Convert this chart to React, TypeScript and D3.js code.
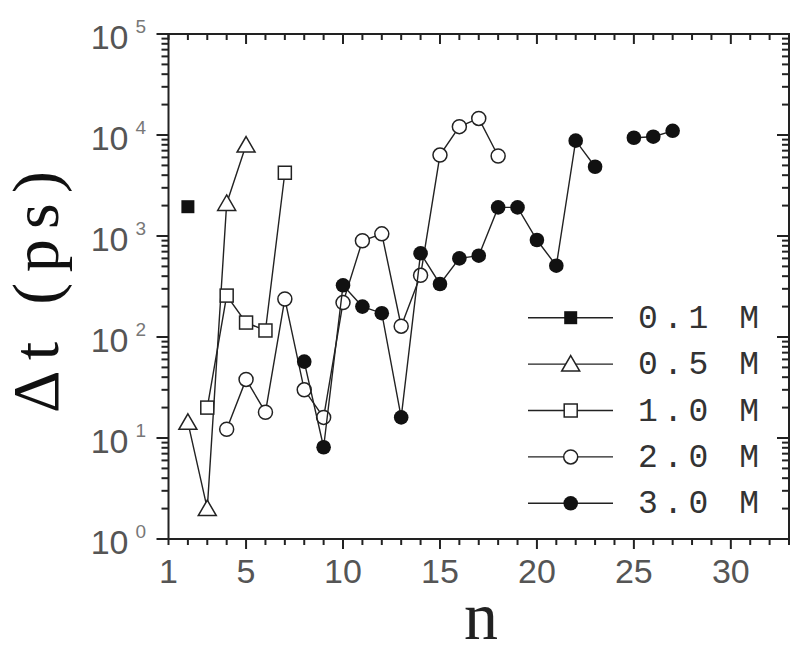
import React from 'react'
import { scaleLinear, scaleLog, line, range } from 'd3'

// n values and Δt (ps), one pair of arrays per concentration
const n01 = [2]
const dt01 = [1950]

const n05 = [2, 3, 4, 5]
const dt05 = [14.3, 2.0, 2100, 7950]

const n10 = [3, 4, 5, 6, 7]
const dt10 = [20, 257, 139, 116, 4230]

const n20 = [4, 5, 6, 7, 8, 9, 10, 11, 12, 13, 14, 15, 16, 17, 18]
const dt20 = [12.2, 38, 18, 238, 30, 16, 219, 898, 1050, 128, 408, 6330, 12100, 14600, 6200]

const n30 = [8, 9, 10, 11, 12, 13, 14, 15, 16, 17, 18, 19, 20, 21, 22, 23, 24, 25, 26, 27]
const dt30 = [57, 8.1, 325, 200, 172, 16, 674, 335, 600, 638, 1920, 1920, 913, 508, 8790, 4850, null, 9400, 9620, 11000]

const legendLabels = ['0.1 M', '0.5 M', '1.0 M', '2.0 M', '3.0 M']
const xTickLabels = [1, 5, 10, 15, 20, 25, 30]
const yExponents = [0, 1, 2, 3, 4, 5]

const left = 168.5, right = 789, top = 34, bottom = 539

const x = scaleLinear().domain([1, 33]).range([left, right])
const y = scaleLog().domain([1, 1e5]).range([bottom, top])

const ink = '#222'

const Marker = ({ kind, cx, cy }) => {
    if (kind === 'fsquare') return <rect x={cx - 6.5} y={cy - 6.5} width={13} height={13} fill="#111" />
    if (kind === 'square') return <rect x={cx - 6.5} y={cy - 6.5} width={13} height={13} fill="white" stroke={ink} strokeWidth={1.5} />
    if (kind === 'triangle') return <path d={`M${cx},${cy - 8.5}L${cx + 9},${cy + 7}L${cx - 9},${cy + 7}Z`} fill="white" stroke={ink} strokeWidth={1.5} />
    if (kind === 'circle') return <circle cx={cx} cy={cy} r={7} fill="white" stroke={ink} strokeWidth={1.5} />
    return <circle cx={cx} cy={cy} r={7.3} fill="#111" />
}

const seriesList = [
    { ns: n01, vals: dt01, kind: 'fsquare' },
    { ns: n05, vals: dt05, kind: 'triangle' },
    { ns: n10, vals: dt10, kind: 'square' },
    { ns: n20, vals: dt20, kind: 'circle' },
    { ns: n30, vals: dt30, kind: 'fcircle' },
]

const App = () => {
    const path = line()
        .defined(d => d[1] != null)
        .x(d => x(d[0]))
        .y(d => y(d[1]))

    const xMinor = range(1, 34)
    const yMinor = []
    yExponents.slice(0, -1).forEach(e => {
        for (let k = 2; k <= 9; k++) yMinor.push(k * Math.pow(10, e))
    })

    const legendY = i => 317.7 + i * 46.4

    return (
        <svg width={800} height={655} style={{ position: 'absolute', left: 0, top: 0, background: 'white' }}>
            {/* ticks: top & bottom point down, left & right point left */}
            <g stroke={ink} strokeWidth={2}>
                {xMinor.map(v => {
                    const len = v % 5 === 0 ? 10 : 6
                    return (
                        <g key={'xt' + v}>
                            <line x1={x(v)} x2={x(v)} y1={top} y2={top + len} />
                            <line x1={x(v)} x2={x(v)} y1={bottom} y2={bottom + len} />
                        </g>
                    )
                })}
                {yMinor.map(v => (
                    <g key={'ym' + v}>
                        <line x1={left} x2={left - 7} y1={y(v)} y2={y(v)} />
                        <line x1={right} x2={right - 7} y1={y(v)} y2={y(v)} />
                    </g>
                ))}
                {yExponents.map(e => (
                    <g key={'yM' + e}>
                        <line x1={left} x2={left - 12} y1={y(Math.pow(10, e))} y2={y(Math.pow(10, e))} />
                        <line x1={right} x2={right - 12} y1={y(Math.pow(10, e))} y2={y(Math.pow(10, e))} />
                    </g>
                ))}
                <rect x={left} y={top} width={right - left} height={bottom - top} fill="none" />
            </g>

            {/* tick labels */}
            <g fontFamily="'Liberation Sans', Arial, sans-serif" fill="#555">
                {xTickLabels.map(v => (
                    <text key={'xl' + v} x={x(v)} y={583} fontSize={34} textAnchor="middle">{v}</text>
                ))}
                {yExponents.map(e => (
                    <g key={'yl' + e}>
                        <text x={128.5} y={y(Math.pow(10, e)) + 15} fontSize={34} textAnchor="end">10</text>
                        <text x={135.5} y={y(Math.pow(10, e)) - 1.5} fontSize={19} fill="#777">{e}</text>
                    </g>
                ))}
            </g>

            {/* axis titles */}
            <text transform="translate(58,292) rotate(-90)" textAnchor="middle" fontFamily="'Liberation Serif', serif"
                fontSize={66} fill="#111" textLength={242} lengthAdjust="spacing">Δt (ps)</text>
            <text x={481} y={639} textAnchor="middle" fontFamily="'Liberation Serif', serif" fontSize={68} fill="#222">n</text>

            {/* data */}
            {seriesList.map((s, i) => {
                const pts = s.ns.map((n, j) => [n, s.vals[j]])
                return (
                    <g key={'s' + i}>
                        <path d={path(pts)} fill="none" stroke={ink} strokeWidth={1.4} />
                        {pts.filter(p => p[1] != null).map(p => (
                            <Marker key={p[0]} kind={s.kind} cx={x(p[0])} cy={y(p[1])} />
                        ))}
                    </g>
                )
            })}

            {/* legend */}
            {seriesList.map((s, i) => (
                <g key={'lg' + i}>
                    <line x1={528} x2={613} y1={legendY(i)} y2={legendY(i)} stroke={ink} strokeWidth={1.4} />
                    <Marker kind={s.kind} cx={570.7} cy={legendY(i)} />
                    <text x={638} y={legendY(i) + 10} fontFamily="'Liberation Mono', 'Courier New', monospace"
                        fontSize={33} letterSpacing={5.5} fill="#333">{legendLabels[i]}</text>
                </g>
            ))}
        </svg>
    )
}

export default App
